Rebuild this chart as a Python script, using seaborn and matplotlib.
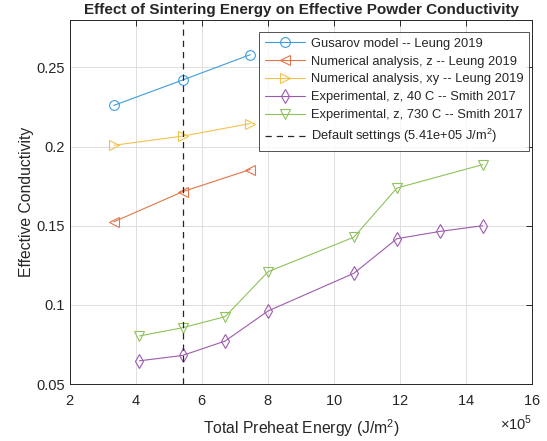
import matplotlib
matplotlib.use("Agg")
import matplotlib.pyplot as plt
import seaborn as sns
import pandas as pd
from matplotlib.ticker import ScalarFormatter

# Data (x in J/m^2)
gus_x = [3.33e5, 5.41e5, 7.46e5]
gus_y = [0.226, 0.242, 0.258]
numz_x = [3.33e5, 5.41e5, 7.46e5]
numz_y = [0.1525, 0.1715, 0.1855]
numxy_x = [3.33e5, 5.41e5, 7.46e5]
numxy_y = [0.2008, 0.2066, 0.2145]
exp40_x = [4.1e5, 5.41e5, 6.7e5, 8.0e5, 10.6e5, 11.9e5, 13.2e5, 14.5e5]
exp40_y = [0.0647, 0.0681, 0.0772, 0.0962, 0.1200, 0.1418, 0.1464, 0.1500]
exp730_x = [4.1e5, 5.41e5, 6.7e5, 8.0e5, 10.6e5, 11.9e5, 14.5e5]
exp730_y = [0.0804, 0.0856, 0.0926, 0.1210, 0.1428, 0.1738, 0.1886]
default_x = 5.41e5

labels = ["Gusarov model -- Leung 2019",
          "Numerical analysis, z -- Leung 2019",
          "Numerical analysis, xy -- Leung 2019",
          "Experimental, z, 40 C -- Smith 2017",
          "Experimental, z, 730 C -- Smith 2017"]
default_label = "Default settings (5.41e+05 J/m$^2$)"

series = [(gus_x, gus_y, "o"), (numz_x, numz_y, "<"), (numxy_x, numxy_y, ">"),
          (exp40_x, exp40_y, "d"), (exp730_x, exp730_y, "v")]
colors = ["#3F9CDB", "#E2764A", "#F2C24E", "#9D5BB0", "#8FC25A"]

sns.set_style("white")
plt.rcParams['font.family'] = ['Liberation Sans', 'DejaVu Sans']
plt.rcParams['mathtext.fontset'] = 'custom'
plt.rcParams['mathtext.rm'] = 'Liberation Sans'

fig = plt.figure(figsize=(5.47, 4.41), dpi=100)
ax = fig.add_axes([0.128, 0.129, 0.845, 0.826])

for (xs, ys, m), lab, c in zip(series, labels, colors):
    df = pd.DataFrame({"x": xs, "y": ys})
    sns.lineplot(data=df, x="x", y="y", ax=ax, color=c, marker=m, markersize=7,
                 markerfacecolor="none", markeredgecolor=c, markeredgewidth=0.8,
                 linewidth=0.8, label=lab, sort=False, estimator=None)
ax.axvline(default_x, color="#262626", linestyle=(0, (5, 4)), linewidth=0.9,
           label=default_label)

ax.set_xlim(2e5, 16e5)
ax.set_ylim(0.05, 0.28)
ax.set_xticks([2e5, 4e5, 6e5, 8e5, 10e5, 12e5, 14e5, 16e5])
ax.set_yticks([0.05, 0.1, 0.15, 0.2, 0.25])
ax.set_yticklabels(["0.05", "0.1", "0.15", "0.2", "0.25"])
fmt = ScalarFormatter(useMathText=True)
fmt.set_powerlimits((5, 5))
ax.xaxis.set_major_formatter(fmt)
ax.xaxis.get_offset_text().set_visible(False)
fig.text(0.973, 0.025, r"$\times10^5$", ha="right", va="baseline",
         fontsize=10.5, color="#262626")

ax.grid(True, color="#DFDFDF", linewidth=0.7)
ax.set_axisbelow(True)
for s in ax.spines.values():
    s.set_color("#262626")
    s.set_linewidth(0.7)
ax.tick_params(direction="in", top=True, right=True, length=4, width=0.7,
               colors="#262626", labelsize=10.5)
ax.tick_params(axis="x", pad=7)

ax.set_xlabel("Total Preheat Energy (J/m$^2$)", fontsize=11.3, color="#262626",
              labelpad=7)
ax.set_ylabel("Effective Conductivity", fontsize=11.3, color="#262626",
              labelpad=2)
ax.set_title("Effect of Sintering Energy on Effective Powder Conductivity",
             fontsize=11, fontweight="bold", pad=4)

leg = ax.legend(loc="upper right", bbox_to_anchor=(0.9935, 0.967),
                fontsize=9.3, frameon=True, fancybox=False,
                edgecolor="#262626", handlelength=3.1, borderpad=0.45,
                labelspacing=0.45, handletextpad=0.45, borderaxespad=0.0)
leg.get_frame().set_linewidth(0.7)

fig.savefig("out.png", dpi=100)
